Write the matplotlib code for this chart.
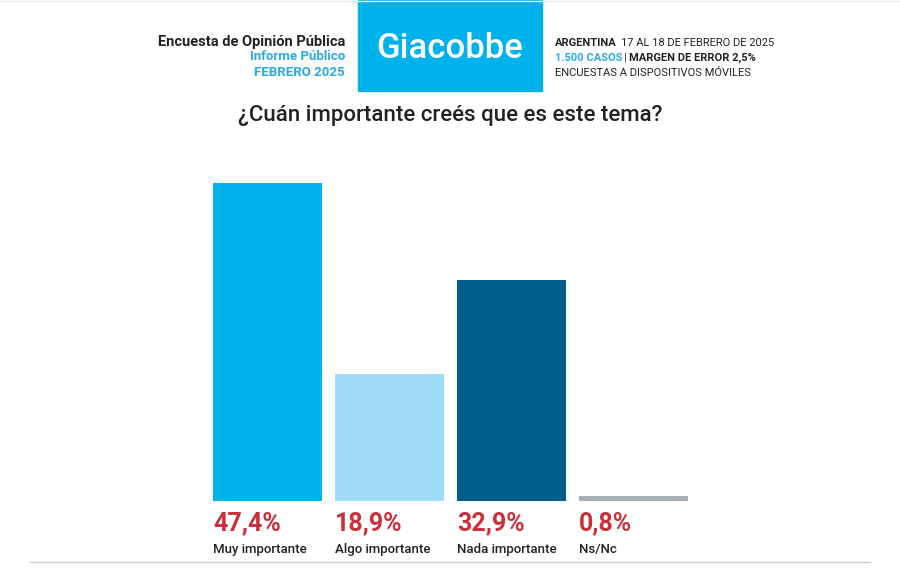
import matplotlib
matplotlib.use("Agg")
import matplotlib.pyplot as plt
from matplotlib.patches import Rectangle

categories = ["Muy importante", "Algo importante", "Nada importante", "Ns/Nc"]
values = [47.4, 18.9, 32.9, 0.8]
labels = ["47,4%", "18,9%", "32,9%", "0,8%"]
colors = ["#00b2ec", "#9edcf7", "#005e8a", "#a7b0b5"]

W, H = 900, 568
fig = plt.figure(figsize=(9, 5.68), dpi=100)
plt.rcParams['font.family'] = ['Roboto', 'DejaVu Sans']

def px(x, y):
    return x / W, 1 - y / H

fig.patches.append(Rectangle(px(358, 91), 184 / W, 91 / H, transform=fig.transFigure,
                             color="#00b2ec", zorder=0))
fig.text(*px(450, 49), "Giacobbe", color="white", fontsize=25, fontweight="medium",
         ha="center", va="center")
fig.text(*px(345, 42), "Encuesta de Opinión Pública", fontsize=10.5, fontweight="bold",
         ha="right", va="center", color="#222222")
fig.text(*px(345, 57), "Informe Público", fontsize=9.5, fontweight="bold",
         ha="right", va="center", color="#29abe2")
fig.text(*px(345, 73), "FEBRERO 2025", fontsize=9.5, fontweight="bold",
         ha="right", va="center", color="#29abe2")
fig.text(*px(555, 43), "ARGENTINA", fontsize=8, fontweight="bold", ha="left", va="center", color="#222222")
fig.text(*px(621, 43), "17 AL 18 DE FEBRERO DE 2025", fontsize=8, ha="left", va="center", color="#222222")
fig.text(*px(555, 58), "1.500 CASOS", fontsize=8, fontweight="bold", ha="left", va="center", color="#29abe2")
fig.text(*px(624, 58), "|", fontsize=8, ha="left", va="center", color="#222222")
fig.text(*px(629, 58), "MARGEN DE ERROR 2,5%", fontsize=8, fontweight="bold", ha="left", va="center", color="#222222")
fig.text(*px(555, 73), "ENCUESTAS A DISPOSITIVOS MÓVILES", fontsize=8, ha="left", va="center", color="#222222")

fig.text(*px(450, 116), "¿Cuán importante creés que es este tema?", fontsize=16, fontweight="medium",
         ha="center", va="center", color="#222222")

ax = fig.add_axes([206.5 / W, 1 - 501 / H, 488 / W, 351 / H])
x = list(range(len(values)))
ax.bar(x, values, width=0.893, color=colors)
ax.set_xlim(-0.5, 3.5)
ax.set_ylim(0, 351 / 6.71)
ax.axis("off")
for i, (lab, cat) in enumerate(zip(labels, categories)):
    ax.annotate(lab, (i - 0.4465, 0), xytext=(0, -7), textcoords="offset points",
                ha="left", va="top", fontsize=18, fontweight="bold", color="#c8313c")
    ax.annotate(cat, (i - 0.4465, 0), xytext=(0, -30), textcoords="offset points",
                ha="left", va="top", fontsize=9.5, fontweight="medium", color="#222222")

fig.add_artist(plt.Line2D([30 / W, 870 / W], [1 - 562 / H] * 2, color="#cccccc", lw=1))
fig.add_artist(plt.Line2D([0, 1], [1 - 1 / H] * 2, color="#eeeeee", lw=1))

fig.savefig("out.png", dpi=100, facecolor="white")
